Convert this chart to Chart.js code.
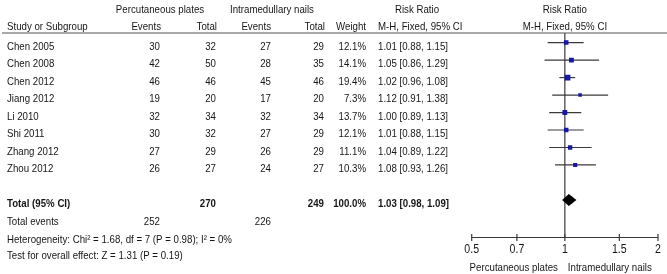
<!DOCTYPE html>
<html>
<head>
<meta charset="utf-8">
<script src="https://cdn.jsdelivr.net/npm/chart.js"></script>
<style>
  html, body { margin: 0; padding: 0; background: #fff; }
  canvas { display: block; }
</style>
</head>
<body>
<canvas id="forest" width="667" height="274"></canvas>
<script>
// study rows
const studies = ['Chen 2005', 'Chen 2008', 'Chen 2012', 'Jiang 2012', 'Li 2010', 'Shi 2011', 'Zhang 2012', 'Zhou 2012'];
const platesEvents = [30, 42, 46, 19, 32, 30, 27, 26];
const platesTotal = [32, 50, 46, 20, 34, 32, 29, 27];
const nailsEvents = [27, 28, 45, 17, 32, 27, 26, 24];
const nailsTotal = [29, 35, 46, 20, 34, 29, 29, 27];
const weights = [12.1, 14.1, 19.4, 7.3, 13.7, 12.1, 11.1, 10.3];
const riskRatio = [1.01, 1.05, 1.02, 1.12, 1.00, 1.01, 1.04, 1.08];
const lowerCI = [0.88, 0.86, 0.96, 0.91, 0.89, 0.88, 0.89, 0.93];
const upperCI = [1.15, 1.29, 1.08, 1.38, 1.13, 1.15, 1.22, 1.26];

// pooled result
const totalPlates = 270;
const totalNails = 249;
const eventsPlates = 252;
const eventsNails = 226;
const totalWeight = 100.0;
const pooledRR = 1.03;
const pooledLower = 0.98;
const pooledUpper = 1.09;
const heterogeneityText = 'Heterogeneity: Chi\u00b2 = 1.68, df = 7 (P = 0.98); I\u00b2 = 0%';
const overallText = 'Test for overall effect: Z = 1.31 (P = 0.19)';

const tickValues = [0.5, 0.7, 1, 1.5, 2];
const axisLabels = ['Percutaneous plates', 'Intramedullary nails'];

const INK = '#161616';
const LINE = '#3a3a3a';
const SQUEEZE = 0.88;

function txt(ctx, s, x, y, align, bold, size) {
  ctx.font = (bold ? 'bold ' : '') + (size || 11) + 'px "Liberation Sans", Arial, sans-serif';
  ctx.textAlign = align || 'left';
  ctx.textBaseline = 'middle';
  ctx.fillStyle = INK;
  const w = ctx.measureText(s).width;
  ctx.fillText(s, x, y, w * SQUEEZE);
}

const f2 = v => v.toFixed(2);

const forestPlugin = {
  id: 'forest',
  beforeDatasetsDraw(chart) {
    const { ctx, chartArea, scales: { x, y } } = chart;
    ctx.save();
    ctx.strokeStyle = LINE;
    ctx.lineWidth = 1.2;
    // line of no effect
    const x1 = x.getPixelForValue(1);
    ctx.beginPath();
    ctx.moveTo(x1, chartArea.top);
    ctx.lineTo(x1, chartArea.bottom);
    ctx.stroke();
    // confidence intervals
    studies.forEach((s, i) => {
      const py = y.getPixelForValue(i);
      ctx.beginPath();
      ctx.moveTo(x.getPixelForValue(lowerCI[i]), py);
      ctx.lineTo(x.getPixelForValue(upperCI[i]), py);
      ctx.stroke();
    });
    // pooled diamond
    const dy = y.getPixelForValue(9);
    ctx.fillStyle = '#000';
    ctx.beginPath();
    ctx.moveTo(x.getPixelForValue(pooledLower), dy);
    ctx.lineTo(x.getPixelForValue(pooledRR), dy - 6);
    ctx.lineTo(x.getPixelForValue(pooledUpper), dy);
    ctx.lineTo(x.getPixelForValue(pooledRR), dy + 6);
    ctx.closePath();
    ctx.fill();
    // x axis
    ctx.beginPath();
    ctx.moveTo(x.getPixelForValue(tickValues[0]), chartArea.bottom);
    ctx.lineTo(x.getPixelForValue(tickValues[tickValues.length - 1]), chartArea.bottom);
    ctx.stroke();
    tickValues.forEach(t => {
      const px = x.getPixelForValue(t);
      ctx.beginPath();
      ctx.moveTo(px, chartArea.bottom - 3.5);
      ctx.lineTo(px, chartArea.bottom + 3.5);
      ctx.stroke();
      txt(ctx, String(t), px, chartArea.bottom + 12, 'center', false, 12);
    });
    txt(ctx, axisLabels[0], x1 - 7, chartArea.bottom + 30, 'right', false, 11);
    txt(ctx, axisLabels[1], x1 + 3, chartArea.bottom + 30, 'left', false, 11);
    ctx.restore();
  },
  afterDraw(chart) {
    const { ctx, chartArea, scales: { x, y } } = chart;
    const top = chartArea.top;
    const rowY = i => y.getPixelForValue(i) + 4;
    const cx = x.getPixelForValue(1);
    ctx.save();
    // header
    ctx.strokeStyle = '#555';
    ctx.lineWidth = 1.2;
    ctx.beginPath();
    ctx.moveTo(2, top);
    ctx.lineTo(667, top);
    ctx.stroke();
    txt(ctx, 'Percutaneous plates', 160, top - 23, 'center');
    txt(ctx, 'Intramedullary nails', 272, top - 23, 'center');
    txt(ctx, 'Risk Ratio', 417, top - 23, 'center');
    txt(ctx, 'Risk Ratio', cx, top - 23, 'center');
    txt(ctx, 'Study or Subgroup', 7, top - 6, 'left');
    txt(ctx, 'Events', 161, top - 6, 'right');
    txt(ctx, 'Total', 217, top - 6, 'right');
    txt(ctx, 'Events', 271, top - 6, 'right');
    txt(ctx, 'Total', 325, top - 6, 'right');
    txt(ctx, 'Weight', 366, top - 6, 'right');
    txt(ctx, 'M-H, Fixed, 95% CI', 378, top - 6, 'left');
    txt(ctx, 'M-H, Fixed, 95% CI', cx, top - 6, 'center');
    // study rows
    studies.forEach((s, i) => {
      const ty = rowY(i);
      txt(ctx, s, 7, ty, 'left');
      txt(ctx, String(platesEvents[i]), 160, ty, 'right');
      txt(ctx, String(platesTotal[i]), 216, ty, 'right');
      txt(ctx, String(nailsEvents[i]), 271, ty, 'right');
      txt(ctx, String(nailsTotal[i]), 324, ty, 'right');
      txt(ctx, weights[i].toFixed(1) + '%', 366, ty, 'right');
      txt(ctx, f2(riskRatio[i]) + ' [' + f2(lowerCI[i]) + ', ' + f2(upperCI[i]) + ']', 378, ty, 'left');
    });
    // totals
    const tY = rowY(9);
    txt(ctx, 'Total (95% CI)', 7, tY, 'left', true);
    txt(ctx, String(totalPlates), 216, tY, 'right', true);
    txt(ctx, String(totalNails), 324, tY, 'right', true);
    txt(ctx, totalWeight.toFixed(1) + '%', 366, tY, 'right', true);
    txt(ctx, f2(pooledRR) + ' [' + f2(pooledLower) + ', ' + f2(pooledUpper) + ']', 378, tY, 'left', true);
    const eY = rowY(10.05);
    txt(ctx, 'Total events', 7, eY, 'left');
    txt(ctx, String(eventsPlates), 160, eY, 'right');
    txt(ctx, String(eventsNails), 271, eY, 'right');
    txt(ctx, heterogeneityText, 7, rowY(11.05), 'left');
    txt(ctx, overallText, 7, rowY(11.95), 'left');
    ctx.restore();
  }
};

new Chart(document.getElementById('forest'), {
  type: 'scatter',
  data: {
    datasets: [{
      data: riskRatio.map((v, i) => ({ x: v, y: i })),
      pointStyle: 'rect',
      pointRadius: weights.map(w => 1.3 * Math.sqrt(w) / Math.SQRT2),
      backgroundColor: '#1717a8',
      borderWidth: 0
    }]
  },
  options: {
    responsive: false,
    animation: false,
    layout: { padding: { left: 471.7, right: 9, top: 33, bottom: 36.5 } },
    plugins: { legend: { display: false }, tooltip: { enabled: false } },
    scales: {
      x: { type: 'logarithmic', min: 0.5, max: 2, display: false },
      y: { type: 'linear', min: -0.55, max: 11.15, reverse: true, display: false }
    }
  },
  plugins: [forestPlugin]
});
</script>
</body>
</html>
